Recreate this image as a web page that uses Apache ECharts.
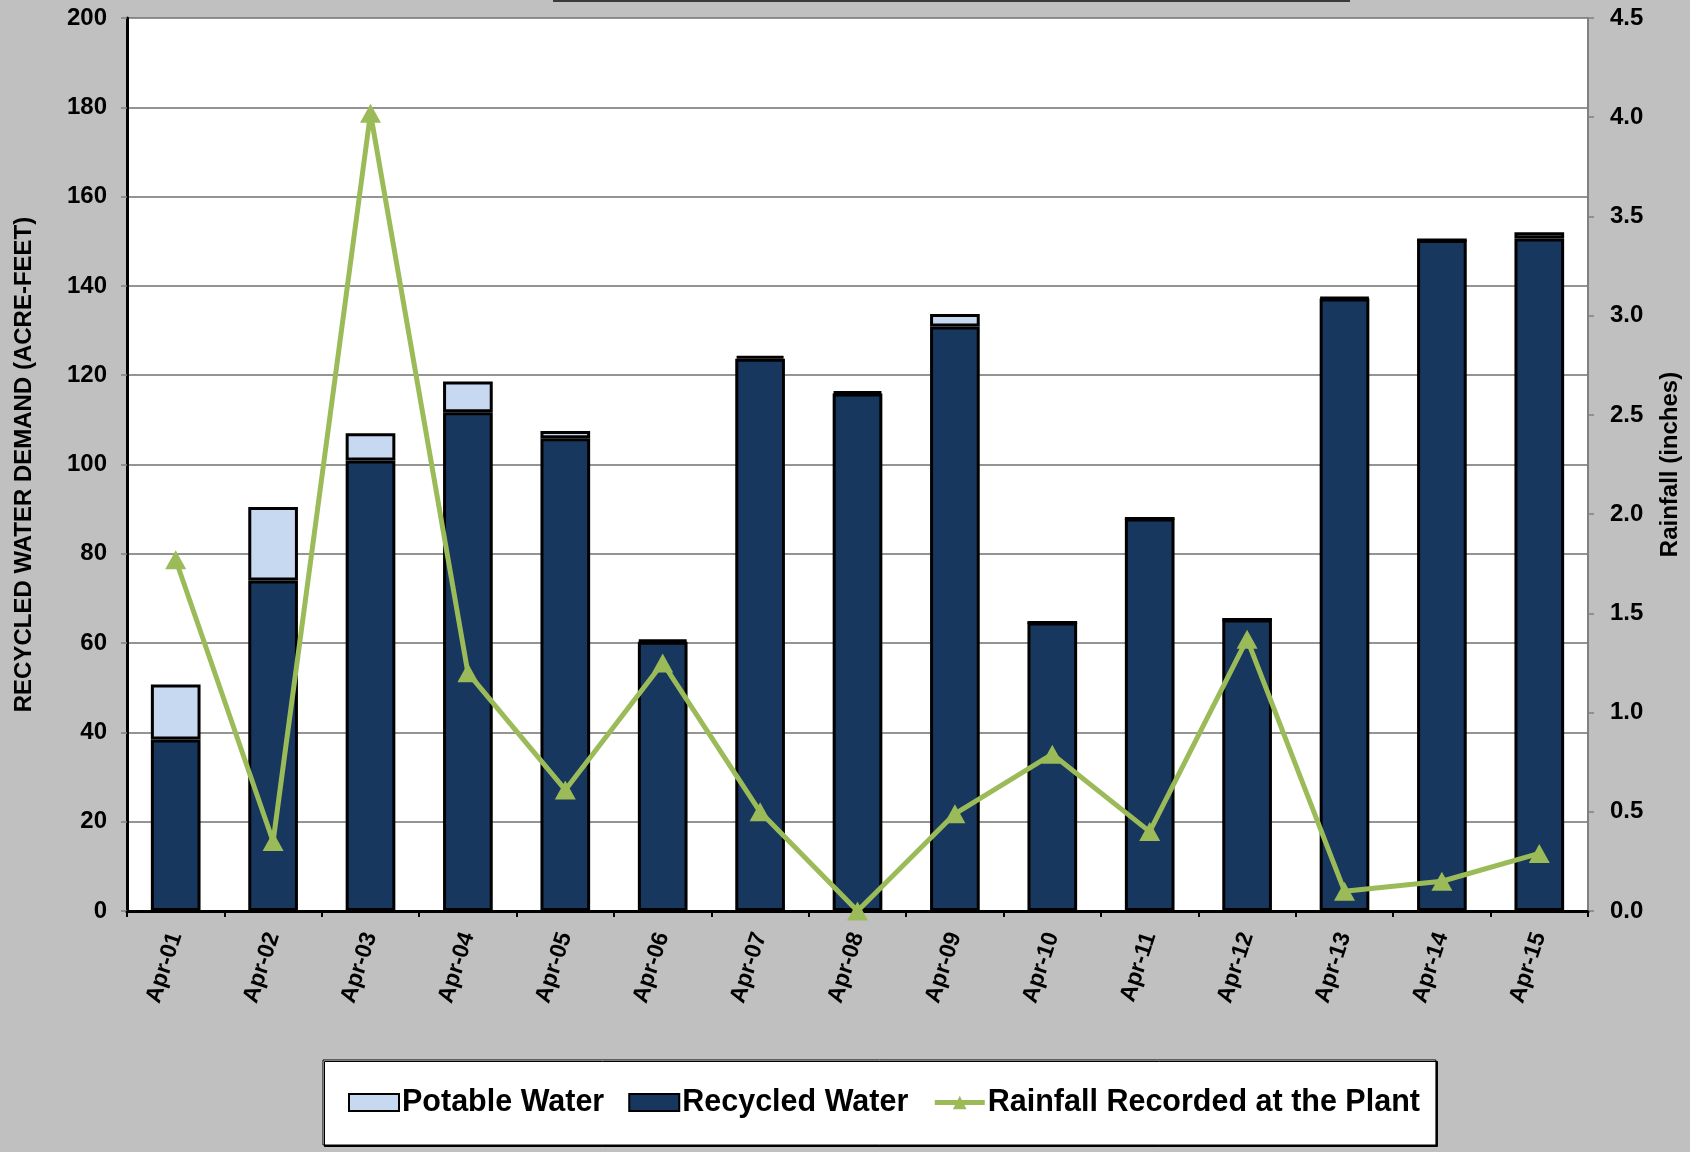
<!DOCTYPE html>
<html>
<head>
<meta charset="utf-8">
<script src="https://cdn.jsdelivr.net/npm/echarts@6/dist/echarts.min.js"></script>
<style>
html,body{margin:0;padding:0;background:#c0c0c0;}
#chart{width:1690px;height:1152px;}
</style>
</head>
<body>
<div id="chart"></div>
<script>
const categories = ['Apr-01','Apr-02','Apr-03','Apr-04','Apr-05','Apr-06','Apr-07','Apr-08','Apr-09','Apr-10','Apr-11','Apr-12','Apr-13','Apr-14','Apr-15'];
const recycledWater = [38.4, 74.0, 100.9, 111.7, 105.9, 60.3, 123.7, 115.9, 130.9, 64.6, 87.9, 65.3, 137.2, 150.3, 150.6];
const potableWater = [12.3, 16.5, 6.1, 6.9, 1.6, 0.4, 0.6, 0.4, 2.8, 0, 0, 0, 0.2, 0, 1.4];
const rainfall = [1.77, 0.35, 4.02, 1.20, 0.61, 1.25, 0.50, 0.00, 0.49, 0.79, 0.40, 1.37, 0.10, 0.15, 0.29];
const leftTicks = {min: 0, max: 200, interval: 20};
const rightTicks = {min: 0, max: 4.5, interval: 0.5};

const FONT = "'Liberation Sans', Arial, sans-serif";
const chart = echarts.init(document.getElementById('chart'), null, {renderer: 'canvas'});

chart.setOption({
  animation: false,
  backgroundColor: '#c0c0c0',
  textStyle: {fontFamily: FONT, color: '#000'},
  graphic: [{
    type: 'rect', left: 553, top: 0, shape: {width: 797, height: 2},
    style: {fill: '#3a3a3a'}, silent: true
  }],
  grid: {
    left: 127, right: 99, top: 18, bottom: 241,
    show: true, backgroundColor: '#ffffff', borderWidth: 0
  },
  legend: {
    data: [
      {name: 'Potable Water', icon: 'rect'},
      {name: 'Recycled Water', icon: 'rect'},
      {name: 'Rainfall Recorded at the Plant', lineStyle: {width: 5}}
    ],
    left: 323, top: 1060,
    padding: [27, 16, 27, 25],
    itemGap: 24, itemWidth: 50, itemHeight: 17,
    backgroundColor: '#ffffff', borderColor: '#000', borderWidth: 1,
    shadowColor: '#000', shadowBlur: 0, shadowOffsetX: 1.5, shadowOffsetY: 1.5,
    textStyle: {fontFamily: FONT, fontSize: 30.5, fontWeight: 'bold', color: '#000', padding: [0, 0, 0, -2]}
  },
  xAxis: [{
    type: 'category', data: categories, boundaryGap: true,
    axisLine: {show: true, lineStyle: {color: '#000', width: 3}},
    axisTick: {show: true, length: 6, lineStyle: {color: '#000', width: 2}},
    axisLabel: {rotate: 72, margin: 22, fontFamily: FONT, fontSize: 23, fontWeight: 'bold', color: '#000'},
    splitLine: {show: false}
  }, {
    type: 'category', data: categories, position: 'top',
    axisLine: {show: true, lineStyle: {color: '#000', width: 3}},
    axisTick: {show: false}, axisLabel: {show: false}, splitLine: {show: false}
  }],
  yAxis: [{
    type: 'value', min: leftTicks.min, max: leftTicks.max, interval: leftTicks.interval,
    position: 'left',
    name: 'RECYCLED WATER DEMAND (ACRE-FEET)', nameLocation: 'middle', nameRotate: 90, nameGap: 91,
    nameTextStyle: {fontFamily: FONT, fontSize: 24, fontWeight: 'bold', color: '#000'},
    axisLine: {show: true, lineStyle: {color: '#000', width: 3}},
    axisTick: {show: true, length: 6, lineStyle: {color: '#808080', width: 1.5}},
    axisLabel: {margin: 20, fontFamily: FONT, fontSize: 24, fontWeight: 'bold', color: '#000'},
    splitLine: {show: true, lineStyle: {color: '#707070', width: 1.5}}
  }, {
    type: 'value', min: rightTicks.min, max: rightTicks.max, interval: rightTicks.interval,
    position: 'right',
    name: 'Rainfall (inches)', nameLocation: 'middle', nameRotate: 90, nameGap: 70,
    nameTextStyle: {fontFamily: FONT, fontSize: 24, fontWeight: 'bold', color: '#000'},
    axisLine: {show: true, lineStyle: {color: '#808080', width: 2}},
    axisTick: {show: true, length: 6, lineStyle: {color: '#808080', width: 1.5}},
    axisLabel: {margin: 22, fontFamily: FONT, fontSize: 24, fontWeight: 'bold', color: '#000',
      formatter: v => v.toFixed(1)},
    splitLine: {show: false}
  }],
  series: [{
    name: 'Recycled Water', type: 'bar', stack: 'water', data: recycledWater,
    barWidth: '51%',
    itemStyle: {color: '#17375e', borderColor: '#000', borderWidth: 3}
  }, {
    name: 'Potable Water', type: 'bar', stack: 'water', data: potableWater,
    barWidth: '51%',
    itemStyle: {color: '#c6d9f1', borderColor: '#000', borderWidth: 3}
  }, {
    name: 'Rainfall Recorded at the Plant', type: 'line', yAxisIndex: 1, data: rainfall,
    symbol: 'triangle', symbolSize: [21, 19],
    lineStyle: {color: '#9bbb59', width: 5},
    itemStyle: {color: '#9bbb59'}
  }]
});
</script>
</body>
</html>
